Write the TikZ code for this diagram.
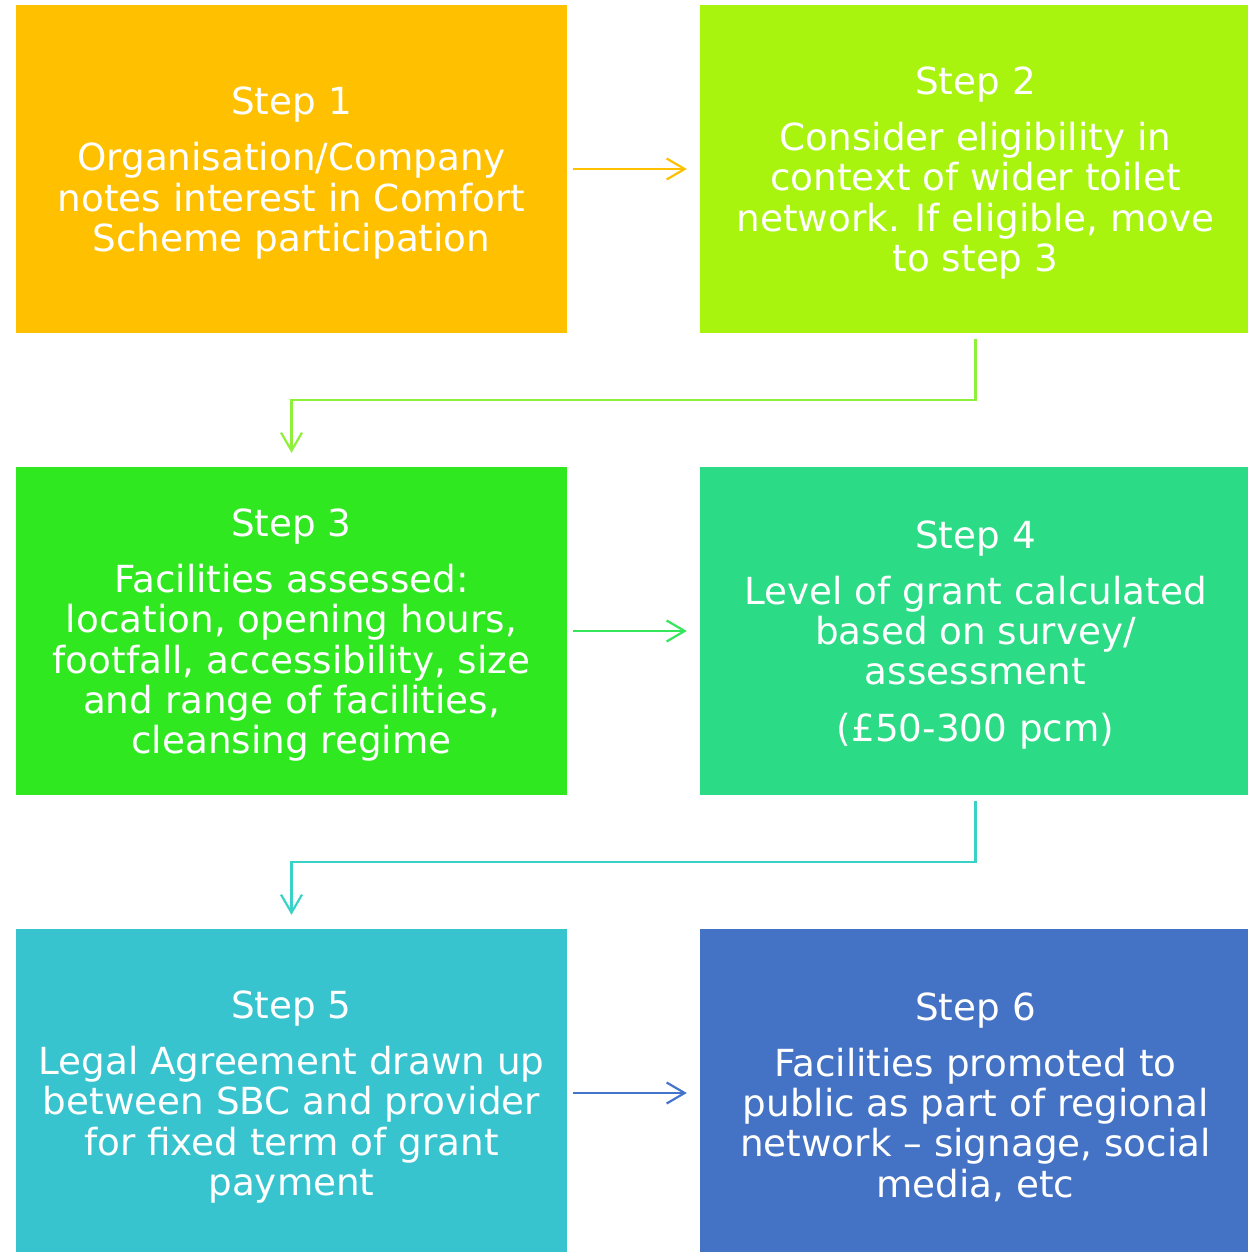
\documentclass[tikz,border=0pt]{standalone}
\usepackage{fontspec}
\setmainfont{DejaVu Sans}
\usepackage{xcolor}
\usetikzlibrary{positioning,calc,arrows.meta}

\definecolor{stepone}{HTML}{FFC000}
\definecolor{steptwo}{HTML}{A9F40F}
\definecolor{stepthree}{HTML}{2FE81F}
\definecolor{stepfour}{HTML}{2BDB85}
\definecolor{stepfive}{HTML}{37C4CF}
\definecolor{stepsix}{HTML}{4472C4}
\definecolor{linktwo}{HTML}{8EF03A}
\definecolor{linkthree}{HTML}{35E65A}
\definecolor{linkfour}{HTML}{38D2C6}
\definecolor{linkfive}{HTML}{4475CC}

\tikzset{
  stepbox/.style={rectangle, fill=#1, text=white, minimum width=551pt,
    minimum height=328pt, inner sep=0pt, align=center,
    font=\fontsize{37.3}{40.3}\selectfont},
  link/.style={draw=#1, line width=2.2pt, -{Straight Barb[length=18pt,width=21pt,line width=2.2pt]}}
}
\newcommand{\steptitle}[1]{\rule{0pt}{36pt}Step #1\\[15.7pt]}

\begin{document}
\begin{tikzpicture}[x=1pt, y=-1pt]
        \useasboundingbox (0,0) rectangle (1247,1252);

        % Step boxes
        \node [stepbox=stepone] (s1) at (291.5,169) {\steptitle{1}
          Organisation/Company\\notes interest in Comfort\\Scheme participation};
        \node [stepbox=steptwo] (s2) at (975.5,169) {\steptitle{2}
          Consider eligibility in\\context of wider toilet\\network. If eligible, move\\to step 3};
        \node [stepbox=stepthree] (s3) at (291.5,631) {\steptitle{3}
          Facilities assessed:\\location, opening hours,\\footfall, accessibility, size\\and range of facilities,\\cleansing regime};
        \node [stepbox=stepfour] (s4) at (975.5,631) {\steptitle{4}
          Level of grant calculated\\based on survey/\\assessment\\[16.7pt]
          (£50-300 pcm)};
        \node [stepbox=stepfive] (s5) at (291.5,1093) {\steptitle{5}
          Legal Agreement drawn up\\between SBC and provider\\for fixed term of grant\\payment};
        \node [stepbox=stepsix] (s6) at (975.5,1093) {\steptitle{6}
          Facilities promoted to\\public as part of regional\\network -- signage, social\\media, etc};

        % Links
        \draw [link=stepone, shorten <=6pt, shorten >=13pt] (s1) -- (s2);
        \draw [link=linktwo, shorten <=6pt, shorten >=14pt] (s2.south) -- ++(0,67) -| (s3.north);
        \draw [link=linkthree, shorten <=6pt, shorten >=13pt] (s3) -- (s4);
        \draw [link=linkfour, shorten <=6pt, shorten >=14pt] (s4.south) -- ++(0,67) -| (s5.north);
        \draw [link=linkfive, shorten <=6pt, shorten >=13pt] (s5) -- (s6);
    \end{tikzpicture}
\end{document}
